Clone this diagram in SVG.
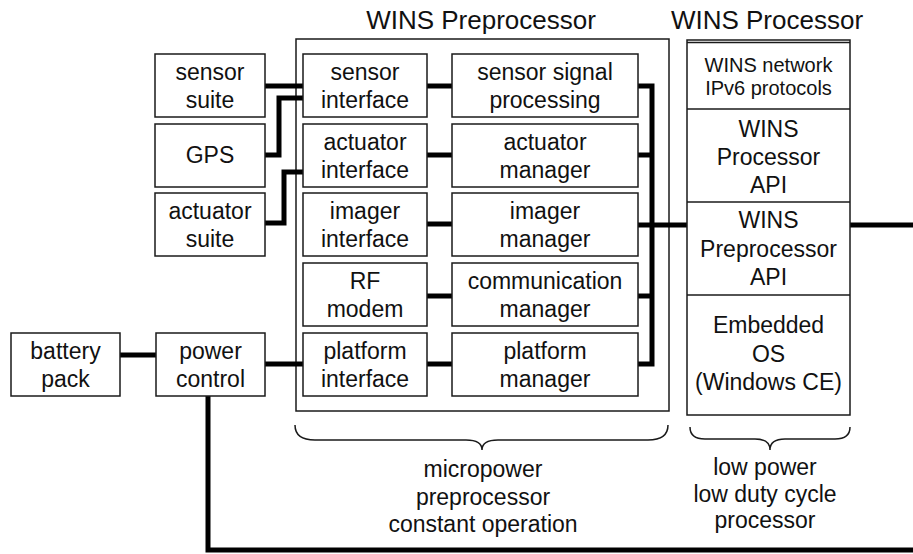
<svg xmlns="http://www.w3.org/2000/svg" width="913" height="554" viewBox="0 0 913 554">
  <style>
    .box { fill: #fff; stroke: #1a1a1a; stroke-width: 1.5; }
    .frame { fill: none; stroke: #1a1a1a; stroke-width: 1.5; }
    .wire { fill: none; stroke: #000; stroke-width: 5; stroke-linejoin: miter; stroke-linecap: butt; }
    .brace { fill: none; stroke: #1a1a1a; stroke-width: 1.5; }
    text { font-family: "Liberation Sans", Arial, sans-serif; fill: #111; text-anchor: middle; }
    .t { font-size: 23px; }
    .s { font-size: 20px; }
    .h { font-size: 26px; }
  </style>

  <!-- section titles -->
  <text class="h" x="481" y="29">WINS Preprocessor</text>
  <text class="h" x="767" y="29">WINS Processor</text>

  <!-- preprocessor enclosure -->
  <rect class="frame" x="296" y="39" width="373" height="372"/>

  <!-- connectors -->
  <g id="connectors">
    <path class="wire" d="M265,86 H303"/>
    <path class="wire" d="M265,155 H279 V98 H303"/>
    <path class="wire" d="M265,223 H284 V172 H303"/>
    <path class="wire" d="M427,86 H452"/>
    <path class="wire" d="M427,155 H452"/>
    <path class="wire" d="M427,224 H452"/>
    <path class="wire" d="M427,296 H452"/>
    <path class="wire" d="M427,364 H452"/>
    <path class="wire" d="M638,86 H652 V364 H638"/>
    <path class="wire" d="M638,155 H652"/>
    <path class="wire" d="M638,225 H687"/>
    <path class="wire" d="M638,296 H652"/>
    <path class="wire" d="M850,225 H913"/>
    <path class="wire" d="M120,355 H156"/>
    <path class="wire" d="M265,364 H303"/>
    <path class="wire" d="M208,395 V550 H913"/>
  </g>

  <!-- external devices -->
  <g id="sensor-suite">
    <rect class="box" x="155" y="54" width="110" height="63"/>
    <text class="t" x="210" y="80">sensor</text>
    <text class="t" x="210" y="108">suite</text>
  </g>
  <g id="gps">
    <rect class="box" x="155" y="124" width="110" height="63"/>
    <text class="t" x="210" y="163">GPS</text>
  </g>
  <g id="actuator-suite">
    <rect class="box" x="155" y="193" width="110" height="63"/>
    <text class="t" x="210" y="219">actuator</text>
    <text class="t" x="210" y="247">suite</text>
  </g>
  <g id="battery-pack">
    <rect class="box" x="11" y="333" width="109" height="63"/>
    <text class="t" x="65.5" y="359">battery</text>
    <text class="t" x="65.5" y="387">pack</text>
  </g>
  <g id="power-control">
    <rect class="box" x="156" y="333" width="109" height="63"/>
    <text class="t" x="210.5" y="359">power</text>
    <text class="t" x="210.5" y="387">control</text>
  </g>

  <!-- interface column -->
  <g id="sensor-interface">
    <rect class="box" x="303" y="54" width="124" height="63"/>
    <text class="t" x="365" y="80">sensor</text>
    <text class="t" x="365" y="108">interface</text>
  </g>
  <g id="actuator-interface">
    <rect class="box" x="303" y="124" width="124" height="63"/>
    <text class="t" x="365" y="150">actuator</text>
    <text class="t" x="365" y="178">interface</text>
  </g>
  <g id="imager-interface">
    <rect class="box" x="303" y="193" width="124" height="63"/>
    <text class="t" x="365" y="219">imager</text>
    <text class="t" x="365" y="247">interface</text>
  </g>
  <g id="rf-modem">
    <rect class="box" x="303" y="263" width="124" height="63"/>
    <text class="t" x="365" y="289">RF</text>
    <text class="t" x="365" y="317">modem</text>
  </g>
  <g id="platform-interface">
    <rect class="box" x="303" y="333" width="124" height="63"/>
    <text class="t" x="365" y="359">platform</text>
    <text class="t" x="365" y="387">interface</text>
  </g>

  <!-- manager column -->
  <g id="sensor-signal-processing">
    <rect class="box" x="452" y="54" width="186" height="63"/>
    <text class="t" x="545" y="80">sensor signal</text>
    <text class="t" x="545" y="108">processing</text>
  </g>
  <g id="actuator-manager">
    <rect class="box" x="452" y="124" width="186" height="63"/>
    <text class="t" x="545" y="150">actuator</text>
    <text class="t" x="545" y="178">manager</text>
  </g>
  <g id="imager-manager">
    <rect class="box" x="452" y="193" width="186" height="63"/>
    <text class="t" x="545" y="219">imager</text>
    <text class="t" x="545" y="247">manager</text>
  </g>
  <g id="communication-manager">
    <rect class="box" x="452" y="263" width="186" height="63"/>
    <text class="t" x="545" y="289">communication</text>
    <text class="t" x="545" y="317">manager</text>
  </g>
  <g id="platform-manager">
    <rect class="box" x="452" y="333" width="186" height="63"/>
    <text class="t" x="545" y="359">platform</text>
    <text class="t" x="545" y="387">manager</text>
  </g>

  <!-- processor stack -->
  <g id="wins-processor">
    <rect class="box" x="687" y="40" width="163" height="375"/>
    <line class="frame" x1="687" y1="42.5" x2="850" y2="42.5"/>
    <line class="frame" x1="687" y1="109" x2="850" y2="109"/>
    <line class="frame" x1="687" y1="202" x2="850" y2="202"/>
    <line class="frame" x1="687" y1="295" x2="850" y2="295"/>
    <text class="s" x="768.5" y="72">WINS network</text>
    <text class="s" x="768.5" y="95">IPv6 protocols</text>
    <text class="t" x="768.5" y="137">WINS</text>
    <text class="t" x="768.5" y="165">Processor</text>
    <text class="t" x="768.5" y="193">API</text>
    <text class="t" x="768.5" y="228">WINS</text>
    <text class="t" x="768.5" y="257">Preprocessor</text>
    <text class="t" x="768.5" y="285">API</text>
    <text class="t" x="768.5" y="333">Embedded</text>
    <text class="t" x="768.5" y="362">OS</text>
    <text class="t" x="768.5" y="390">(Windows CE)</text>
  </g>

  <!-- braces and captions -->
  <path class="brace" d="M295,425 Q295,440 315,440 H466 Q482,440 482,450 Q482,440 498,440 H648 Q668,440 668,425"/>
  <text class="t" x="483" y="477">micropower</text>
  <text class="t" x="483" y="505">preprocessor</text>
  <text class="t" x="483" y="532">constant operation</text>

  <path class="brace" d="M690,427 Q690,439 705,439 H755 Q770,439 770,450 Q770,439 785,439 H835 Q850,439 850,427"/>
  <text class="t" x="765" y="475">low power</text>
  <text class="t" x="765" y="502">low duty cycle</text>
  <text class="t" x="765" y="528">processor</text>
</svg>
